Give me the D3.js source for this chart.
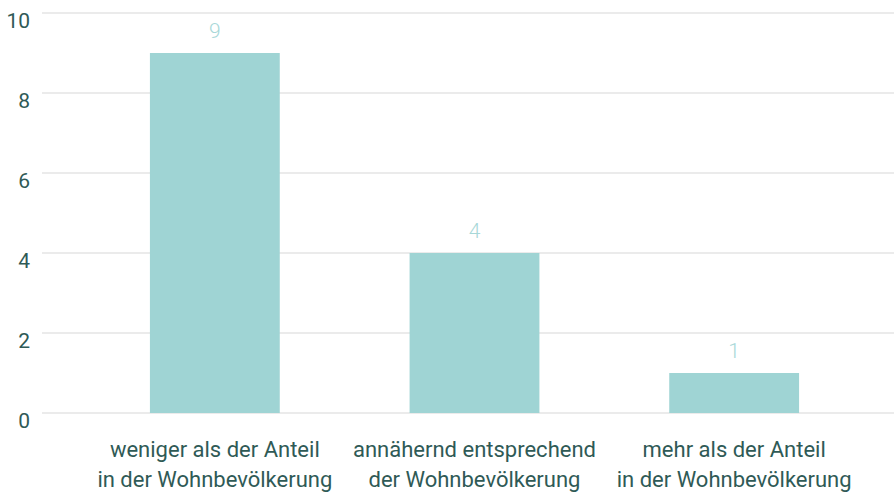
<!DOCTYPE html>
<html><head><meta charset="utf-8">
<script src="https://cdn.jsdelivr.net/npm/d3@7"></script>
<style>body{margin:0;background:#fff}svg{display:block}</style>
</head><body>
<svg id="c" width="894" height="496"></svg>
<script>
const categories = [
  ["weniger als der Anteil", "in der Wohnbevölkerung"],
  ["annähernd entsprechend", "der Wohnbevölkerung"],
  ["mehr als der Anteil", "in der Wohnbevölkerung"]
];
const values = [9, 4, 1];
const yTicks = [0, 2, 4, 6, 8, 10];

const svg = d3.select("#c");
const font = "'Roboto', sans-serif";
const x = d3.scaleBand().domain(d3.range(categories.length)).range([85, 864]).paddingInner(0.5).paddingOuter(0.25);
const y = d3.scaleLinear().domain([0, 10]).range([413, 13]);

// gridlines
svg.append("g").selectAll("line").data(yTicks).join("line")
  .attr("x1", 42).attr("x2", 894)
  .attr("y1", d => y(d)).attr("y2", d => y(d))
  .attr("stroke", "#ebebeb").attr("stroke-width", 2);

// y labels
svg.append("g").selectAll("text").data(yTicks).join("text")
  .attr("x", 30).attr("y", d => y(d) + 15)
  .attr("text-anchor", "end")
  .attr("font-family", font).attr("font-size", 21)
  .attr("fill", "#2f5a56")
  .text(d => d);

// bars
svg.append("g").selectAll("rect").data(values).join("rect")
  .attr("x", (d, i) => x(i)).attr("width", x.bandwidth())
  .attr("y", d => y(d)).attr("height", d => y(0) - y(d))
  .attr("fill", "#9fd4d4");

// value labels
svg.append("g").selectAll("text").data(values).join("text")
  .attr("x", (d, i) => x(i) + x.bandwidth() / 2)
  .attr("y", d => y(d) - 15)
  .attr("text-anchor", "middle")
  .attr("font-family", font).attr("font-size", 21).attr("font-weight", 300)
  .attr("fill", "#a8d8d8")
  .text(d => d);

// category labels
const cg = svg.append("g").selectAll("text").data(categories).join("text")
  .attr("x", (d, i) => x(i) + x.bandwidth() / 2)
  .attr("text-anchor", "middle")
  .attr("font-family", font).attr("font-size", 22)
  .attr("fill", "#2f5a56");
cg.selectAll("tspan").data(d => d).join("tspan")
  .attr("x", function() { return this.parentNode.getAttribute("x"); })
  .attr("y", (d, j) => 457 + j * 30)
  .text(d => d);
</script>
</body></html>
